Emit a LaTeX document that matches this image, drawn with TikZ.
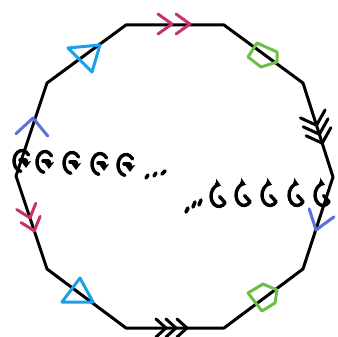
\documentclass[tikz,border=0pt]{standalone}
\usetikzlibrary{arrows.meta,calc}
\definecolor{mag}{HTML}{C4336C}
\definecolor{tri}{HTML}{1A9FE8}
\definecolor{pent}{HTML}{6CBF47}
\definecolor{chev}{HTML}{5E6FD8}
\begin{document}
\begin{tikzpicture}[x=1pt,y=-1pt,line cap=round,line join=round,
  edge/.style={line width=3pt,black},
  mk/.style={line width=3pt},
  glyphline/.style={line width=3.4pt,black},
  tipg/.style={-{Stealth[length=7pt,width=10pt,inset=1.5pt]}},
  dotdash/.style={line width=3.6pt,black},
  pics/chv/.style 2 args={code={\draw[mk,pic actions] (-#1,-#2)--(0,0)--(-#1,#2);}},
  pics/lg/.style={code={
    \draw[glyphline] (-35:8 and 10.5) arc[start angle=-35,end angle=-262,x radius=8,y radius=10.5];
    \draw[glyphline,tipg] (-2,-1) -- (4,-1) -- (4,7);}},
  pics/rg/.style={code={
    \draw[glyphline,tipg] (0.5,0.5) .. controls (3,4) .. (40:8 and 10.5) arc[start angle=40,end angle=285,x radius=8,y radius=10.5];}}
]
\useasboundingbox (0,0) rectangle (338,337);
\coordinate (A) at (126,25);
\coordinate (B) at (224,25);
\coordinate (C) at (303,83);
\coordinate (D) at (333,177);
\coordinate (E) at (303,269);
\coordinate (F) at (224,328);
\coordinate (G) at (126,328);
\coordinate (H) at (47,269);
\coordinate (I) at (16,176);
\coordinate (J) at (47,83);
\draw[edge] (A)--(B)--(C)--(D)--(E)--(F)--(G)--(H)--(I)--(J)--cycle;
% top magenta double chevron
\pic[mag] at (172,24) {chv={14}{10}};
\pic[mag] at (190,24) {chv={14}{10}};
% upper right green pentagon
\draw[mk,pent] (257,43)--(277,52)--(277,62)--(261,67)--(248,57)--cycle;
% right upper black triple chevron
\pic[black,rotate=-72] at ($(C)!0.45!(D)$) {chv={12}{13}};
\pic[black,rotate=-72] at ($(C)!0.545!(D)$) {chv={12}{13}};
\pic[black,rotate=-72] at ($(C)!0.64!(D)$) {chv={12}{13}};
% right lower blue chevron
\pic[chev,rotate=-108] at (316,230) {chv={18}{13}};
% lower right green pentagon
\draw[mk,pent] (263,284)--(277,290)--(275,303)--(262,311)--(248,293)--cycle;
% bottom black triple chevron
\pic[black] at (166,328) {chv={10}{9}};
\pic[black] at (176,328) {chv={10}{9}};
\pic[black] at (187,328) {chv={10}{9}};
% lower left blue triangle
\draw[mk,tri] (62,302)--(80,278)--(93,302)--cycle;
% left lower magenta double chevron
\pic[mag,rotate=-72] at ($(I)!0.45!(H)$) {chv={12}{10}};
\pic[mag,rotate=-72] at ($(I)!0.59!(H)$) {chv={12}{10}};
% left upper blue chevron
\pic[chev,rotate=86] at (33,118) {chv={17}{16}};
% upper left blue triangle
\draw[mk,tri] (68,48)--(100,45)--(92,72)--cycle;
% left glyph row
\pic at (22,161) {lg};
\pic at (45,162) {lg};
\pic at (72,163) {lg};
\pic at (100,164) {lg};
\pic at (126,165) {lg};
\draw[dotdash] (146,178)--(148,175);
\draw[dotdash] (154,176)--(156,173);
\draw[dotdash] (162,174)--(165,171);
% right glyph row
\draw[dotdash] (186,212)--(188,208);
\draw[dotdash] (193,207)--(195,202);
\draw[dotdash] (199,205)--(201,200);
\pic at (219,196) {rg};
\pic at (244,195) {rg};
\pic at (270,195) {rg};
\pic at (297,195) {rg};
\pic at (323,195) {rg};
\end{tikzpicture}
\end{document}
